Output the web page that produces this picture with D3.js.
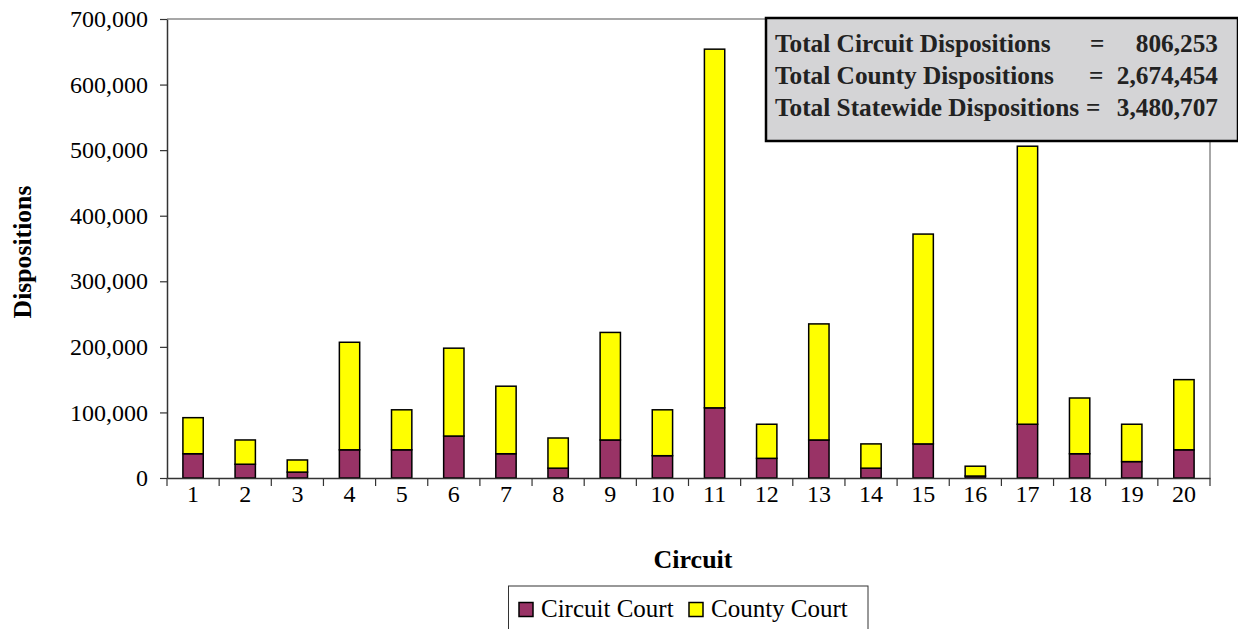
<!DOCTYPE html>
<html><head><meta charset="utf-8">
<script src="https://cdn.jsdelivr.net/npm/d3@7"></script>
<style>body{margin:0;background:#fff}svg{display:block}</style>
</head><body>
<svg id="c" width="1238" height="629"></svg>
<script>
const circuits = ["1","2","3","4","5","6","7","8","9","10","11","12","13","14","15","16","17","18","19","20"];
const circuitCourt = [37000,21000,9000,43000,43000,64000,37000,15000,58000,34000,107000,30000,58000,15000,52000,3000,82000,37000,25000,43000];
const countyCourt = [55000,37000,18500,164000,61000,134000,103000,46000,164000,70000,547000,52000,177000,37000,320000,15000,424000,85000,57000,107000];
const yTicks = [0,100000,200000,300000,400000,500000,600000,700000];
const seriesNames = ["Circuit Court","County Court"];
const seriesColors = ["#993366","#ffff00"];
const totalsLabels = ["Total Circuit Dispositions","Total County Dispositions","Total Statewide Dispositions"];
const totalsValues = ["806,253","2,674,454","3,480,707"];

const svg = d3.select("#c");
const m = {l:167, t:19, r:1210, b:478};
const x = d3.scaleBand().domain(circuits).range([m.l, m.r]).paddingInner(0.61).paddingOuter(0.305);
const y = d3.scaleLinear().domain([0,700000]).range([m.b, m.t]);
const serif = "'Liberation Serif','Times New Roman',serif";

// frame top/right
svg.append("path").attr("d", `M${m.l},${m.t}H${m.r}V${m.b}`).attr("fill","none").attr("stroke","#8a8a8a").attr("stroke-width",1.5);

// bars
const data = circuits.map((c,i)=>({c, a:circuitCourt[i], b:countyCourt[i]}));
const stack = d3.stack().keys(["a","b"])(data);
stack.forEach((s,si)=>{
  svg.append("g").selectAll("rect").data(s).join("rect")
    .attr("x", d=>x(d.data.c)).attr("width", x.bandwidth())
    .attr("y", d=>y(d[1])).attr("height", d=>y(d[0])-y(d[1]))
    .attr("fill", seriesColors[si]).attr("stroke","#000").attr("stroke-width",1.5);
});

// y axis
const ya = svg.append("g").attr("transform",`translate(${m.l},0)`)
  .call(d3.axisLeft(y).tickValues(yTicks).tickFormat(d3.format(",")).tickSize(7).tickSizeOuter(0));
ya.selectAll("text").attr("font-family",serif).attr("font-size",24).attr("fill","#000").attr("dx",-9);
ya.select(".domain").attr("stroke","#333").attr("stroke-width",1.5);
ya.selectAll(".tick line").attr("stroke","#333").attr("stroke-width",1.2);

// x axis
const xa = svg.append("g").attr("transform",`translate(0,${m.b})`)
  .call(d3.axisBottom(x).tickSize(0).tickSizeOuter(0));
xa.selectAll("text").attr("font-family",serif).attr("font-size",24).attr("fill","#000").attr("y",24).attr("dy",0);
xa.select(".domain").attr("stroke","#333").attr("stroke-width",1.5);
const step = x.step();
svg.append("g").selectAll("line").data(d3.range(circuits.length+1)).join("line")
  .attr("x1", i=>m.l+i*step).attr("x2", i=>m.l+i*step)
  .attr("y1", m.b).attr("y2", m.b+8).attr("stroke","#333").attr("stroke-width",1.2);

// axis titles
svg.append("text").attr("x",693).attr("y",568).attr("text-anchor","middle")
  .attr("font-family",serif).attr("font-weight","bold").attr("font-size",26).text("Circuit");
svg.append("text").attr("transform","translate(31,252) rotate(-90)").attr("text-anchor","middle")
  .attr("font-family",serif).attr("font-weight","bold").attr("font-size",25.7).text("Dispositions");

// totals box
const tb = svg.append("g");
tb.append("rect").attr("x",766).attr("y",18).attr("width",472).attr("height",123)
  .attr("fill","#d4d4d6").attr("stroke","#000").attr("stroke-width",2.5);
totalsLabels.forEach((t,i)=>{
  const yy = 52 + i*32;
  tb.append("text").attr("x",775).attr("y",yy).attr("font-family",serif).attr("font-weight","bold")
    .attr("font-size",25.3).attr("fill","#222").text(t);
  tb.append("text").attr("x",[1090,1089,1086][i]).attr("y",yy).attr("font-family",serif).attr("font-weight","bold")
    .attr("font-size",25.3).attr("fill","#222").text("=");
  tb.append("text").attr("x",1218).attr("y",yy).attr("text-anchor","end").attr("font-family",serif).attr("font-weight","bold")
    .attr("font-size",25.3).attr("fill","#222").text(totalsValues[i]);
});

// legend
const lg = svg.append("g");
lg.append("rect").attr("x",508.5).attr("y",586).attr("width",359.5).attr("height",60)
  .attr("fill","#fff").attr("stroke","#333").attr("stroke-width",1);
const lx = [519, 689];
seriesNames.forEach((n,i)=>{
  lg.append("rect").attr("x",lx[i]).attr("y",602.5).attr("width",14).attr("height",14)
    .attr("fill",seriesColors[i]).attr("stroke","#000").attr("stroke-width",1.5);
  lg.append("text").attr("x",lx[i]+22).attr("y",617).attr("font-family",serif).attr("font-size",25).attr("fill","#000").text(n);
});
</script>
</body></html>
